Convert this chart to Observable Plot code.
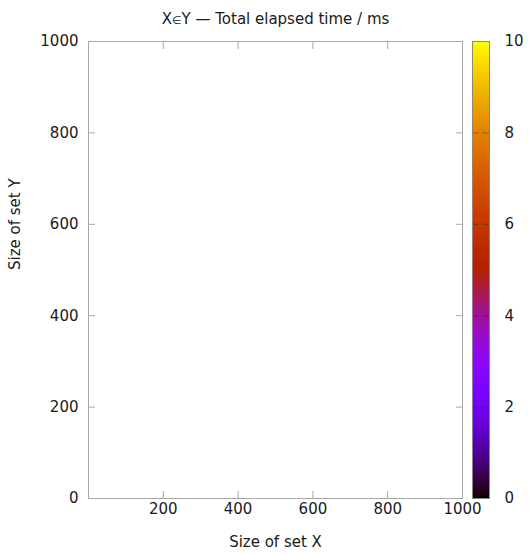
<!DOCTYPE html>
<html>
<head>
<meta charset="utf-8">
<script src="https://cdn.jsdelivr.net/npm/d3@7"></script>
<script src="https://cdn.jsdelivr.net/npm/@observablehq/plot@0.6"></script>
<style>
  html, body { margin: 0; padding: 0; background: #fff; }
  #wrap { position: relative; width: 529px; height: 554px; font-family: "DejaVu Sans", sans-serif; }
  #wrap svg { font-family: "DejaVu Sans", sans-serif; }
  #cb { position: absolute; left: 472px; top: 0; }
  #main { position: absolute; left: 0; top: 0; }
</style>
</head>
<body>
<div id="wrap"><div id="main"></div><div id="cb"></div></div>
<script>
// ---- chart data (heatmap cells: none visible in the reference) ----
const title = "X∈Y — Total elapsed time / ms";
const xLabel = "Size of set X";
const yLabel = "Size of set Y";
const xDomain = [0, 1000];
const yDomain = [0, 1000];
const colorDomain = [0, 10];
const xTicks = [200, 400, 600, 800, 1000];
const yTicks = [0, 200, 400, 600, 800, 1000];
const cbTicks = [0, 2, 4, 6, 8, 10];
const cbInnerTicks = [2, 4, 6, 8];
const cellSize = 10;
const cellsX = [];
const cellsY = [];
const cellsValue = [];

const cells = cellsX.map((x, i) => ({x, y: cellsY[i], value: cellsValue[i]}));

// gnuplot default palette (rgbformulae 7,5,15)
const gnuplotPalette = t => {
  const r = Math.sqrt(t), g = t * t * t, b = Math.max(0, Math.sin(2 * Math.PI * t));
  return d3.rgb(Math.round(r * 255), Math.round(g * 255), Math.round(b * 255)).toString();
};

const axisColor = "#a8a8a8";
const textColor = "#1a1a1a";
const fontSize = 15;
const fmt = d => String(d);

const main = Plot.plot({
  width: 529,
  height: 554,
  marginLeft: 88,
  marginRight: 67,
  marginTop: 41,
  marginBottom: 56,
  style: {fontSize: fontSize + "px", fontFamily: "DejaVu Sans", color: textColor, background: "transparent"},
  x: {type: "linear", domain: xDomain},
  y: {type: "linear", domain: yDomain},
  color: {type: "linear", domain: colorDomain, interpolate: gnuplotPalette},
  marks: [
    Plot.rect(cells, {x: "x", y: "y", interval: cellSize, fill: "value"}),
    Plot.frame({stroke: axisColor}),
    // inward ticks on all four sides
    Plot.axisX({ticks: xTicks, anchor: "bottom", tickSize: 7, dy: -7, text: null, stroke: axisColor, label: null}),
    Plot.axisX({ticks: xTicks, anchor: "top", tickSize: 7, dy: 7, text: null, stroke: axisColor, label: null}),
    Plot.axisY({ticks: yTicks, anchor: "left", tickSize: 7, dx: 7, text: null, stroke: axisColor, label: null}),
    Plot.axisY({ticks: yTicks, anchor: "right", tickSize: 7, dx: -7, text: null, stroke: axisColor, label: null}),
    // tick labels
    Plot.axisX({ticks: xTicks, tickFormat: fmt, anchor: "bottom", tickSize: 0, tickPadding: 5, label: null, fill: textColor, fontSize: fontSize}),
    Plot.axisY({ticks: yTicks, tickFormat: fmt, anchor: "left", tickSize: 0, tickPadding: 10, label: null, fill: textColor, fontSize: fontSize}),
    // titles
    Plot.text([title], {frameAnchor: "top", dy: -28, fill: textColor, fontSize: fontSize}),
    Plot.text([xLabel], {frameAnchor: "bottom", dy: 48, fill: textColor, fontSize: fontSize}),
    Plot.text([yLabel], {frameAnchor: "left", dx: -73, rotate: -90, fill: textColor, fontSize: fontSize})
  ]
});
document.getElementById("main").appendChild(main);

// render the "∈" glyph smaller, as in the reference
d3.select(main).selectAll("text").each(function() {
  const t = this.textContent;
  const i = t.indexOf("∈");
  if (i < 0) return;
  const el = d3.select(this);
  el.text(null);
  el.append("tspan").text(t.slice(0, i));
  el.append("tspan").attr("font-size", 11).text("∈");
  el.append("tspan").text(t.slice(i + 1));
});

// colour bar legend
const step = 0.02;
const cbSteps = d3.range(colorDomain[0], colorDomain[1], step);
const cb = Plot.plot({
  width: 57,
  height: 554,
  marginLeft: 0,
  marginRight: 40,
  marginTop: 41,
  marginBottom: 56,
  style: {fontSize: fontSize + "px", fontFamily: "DejaVu Sans", color: textColor, background: "transparent", overflow: "visible"},
  x: {axis: null, type: "linear", domain: [0, 1]},
  y: {type: "linear", domain: colorDomain},
  color: {type: "linear", domain: colorDomain, interpolate: gnuplotPalette},
  marks: [
    Plot.rect(cbSteps, {x1: 0, x2: 1, y1: d => d, y2: d => Math.min(colorDomain[1], d + step * 2), fill: d => d + step / 2, shapeRendering: "crispEdges"}),
    Plot.ruleY(cbInnerTicks, {stroke: "#202020", strokeOpacity: 0.45, strokeDasharray: "7,3"}),
    Plot.frame({stroke: "#888888"}),
    Plot.axisY({ticks: cbTicks, tickFormat: fmt, anchor: "right", tickSize: 0, tickPadding: 15, label: null, fill: textColor, fontSize: fontSize, textAnchor: "start"})
  ]
});
document.getElementById("cb").appendChild(cb);
</script>
</body>
</html>
